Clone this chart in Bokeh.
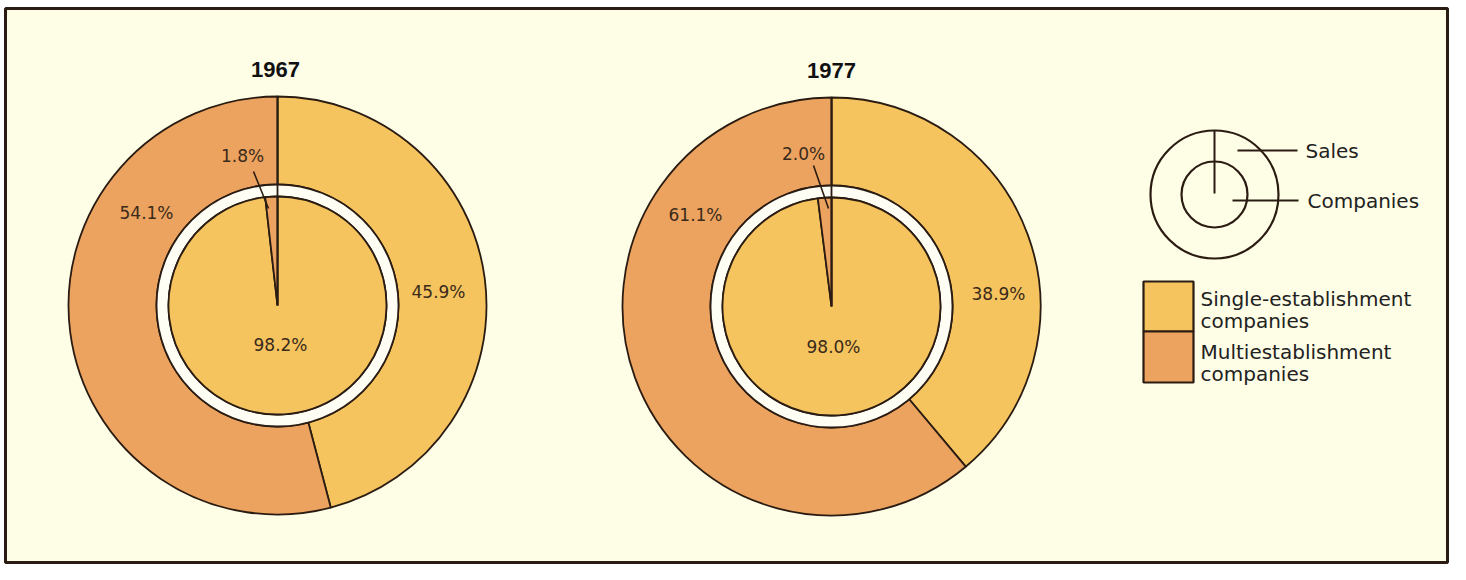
import numpy as np
from bokeh.plotting import figure
from bokeh.models import Range1d
from bokeh.embed import file_html
from bokeh.resources import INLINE
from bokeh.core.properties import value

# ---------------- data ----------------
years = ["1967", "1977"]
sales_single = [45.9, 38.9]       # % of sales, single-establishment companies
sales_multi = [54.1, 61.1]        # % of sales, multiestablishment companies
companies_single = [98.2, 98.0]   # % of companies, single-establishment
companies_multi = [1.8, 2.0]      # % of companies, multiestablishment
ring_labels = ["Sales", "Companies"]
legend_labels = ["Single-establishment\ncompanies", "Multiestablishment\ncompanies"]

# ---------------- style ----------------
YELLOW = "#F6C45E"
ORANGE = "#ECA35F"
BG = "#FEFDE6"
RING = "#FFFEF4"
INK = "#2a1c12"
FONT = value("DejaVu Sans")
TFONT = value("Liberation Sans")

W, H = 1450, 564
p = figure(width=W, height=H, x_range=Range1d(0, W), y_range=Range1d(-H, 0),
           output_backend="svg", toolbar_location=None, min_border=0,
           x_axis_type=None, y_axis_type=None)
p.grid.visible = False
p.background_fill_color = "#FFFFFF"
p.border_fill_color = "#FFFFFF"
p.outline_line_color = None

# panel frame
p.quad(left=[5], right=[1447], top=[-8], bottom=[-562], fill_color=BG,
       line_color=INK, line_width=3)

R_OUT, R_RING, R_IN = 209, 121, 109
centers = [(277, 305), (831, 306)]
# label layout (page px, text centres)
title_pos = [(275, 69), (831, 70)]
smulti_pos = [(146, 212), (695, 214)]
ssingle_pos = [(438, 291), (998, 293)]
csingle_pos = [(280, 344), (833, 346)]
cmulti_pos = [(242, 155), (803, 153)]
leaders = [((253, 171), (268, 208)), ((813, 165), (828, 208))]

TWO_PI = 2 * np.pi
a0 = np.pi / 2

for i in range(len(years)):
    cx, cy = centers[i]
    y = -cy
    a_s = a0 - TWO_PI * sales_single[i] / 100.0
    a_s2 = a_s - TWO_PI * sales_multi[i] / 100.0
    p.annular_wedge(x=cx, y=y, inner_radius=R_RING, outer_radius=R_OUT,
                    start_angle=a0, end_angle=a_s, direction="clock",
                    fill_color=YELLOW, line_color=INK, line_width=1.8)
    p.annular_wedge(x=cx, y=y, inner_radius=R_RING, outer_radius=R_OUT,
                    start_angle=a_s, end_angle=a_s2, direction="clock",
                    fill_color=ORANGE, line_color=INK, line_width=1.8)
    p.annulus(x=cx, y=y, inner_radius=R_IN, outer_radius=R_RING,
              fill_color=RING, line_color=INK, line_width=1.8)
    c_s = a0 - TWO_PI * companies_single[i] / 100.0
    c_s2 = c_s - TWO_PI * companies_multi[i] / 100.0
    p.wedge(x=cx, y=y, radius=R_IN, start_angle=a0, end_angle=c_s, direction="clock",
            fill_color=YELLOW, line_color=INK, line_width=1.8)
    p.wedge(x=cx, y=y, radius=R_IN, start_angle=c_s, end_angle=c_s2, direction="clock",
            fill_color=ORANGE, line_color=INK, line_width=1.8)
    # starting radius through the white ring
    p.segment(x0=cx, y0=y, x1=cx + R_OUT * np.cos(a0), y1=y + R_OUT * np.sin(a0),
              line_color=INK, line_width=1.8)
    # leader for small wedge
    (lx0, ly0), (lx1, ly1) = leaders[i]
    p.segment(x0=lx0, y0=-ly0, x1=lx1, y1=-ly1, line_color=INK, line_width=1.6)

    p.text(x=[title_pos[i][0]], y=[-title_pos[i][1]], text=[years[i]],
           text_font=TFONT, text_font_style="bold", text_font_size="22px",
           text_align="center", text_baseline="middle", text_color="#111111")
    labs = [f"{sales_multi[i]:.1f}%", f"{sales_single[i]:.1f}%",
            f"{companies_single[i]:.1f}%", f"{companies_multi[i]:.1f}%"]
    poss = [smulti_pos[i], ssingle_pos[i], csingle_pos[i], cmulti_pos[i]]
    p.text(x=[q[0] for q in poss], y=[-q[1] for q in poss], text=labs,
           text_font=FONT, text_font_size="17px", text_align="center",
           text_baseline="middle", text_color="#3a2a1a")

# ---------------- key ----------------
kx, ky = 1214, 194
p.circle(x=[kx, kx], y=[-ky, -ky], radius=[64, 33], fill_color=None,
         line_color=INK, line_width=2.2)
p.segment(x0=[kx, 1237, 1232], y0=[-130, -150, -200], x1=[kx, 1297, 1298],
          y1=[-193, -150, -200], line_color=INK, line_width=2)
p.text(x=[1305, 1307], y=[-150, -200], text=ring_labels, text_font=FONT,
       text_font_size="20px", text_align="left", text_baseline="middle",
       text_color="#222222")

p.quad(left=[1143, 1143], right=[1193, 1193], top=[-281, -331], bottom=[-331, -382],
       fill_color=[YELLOW, ORANGE], line_color=INK, line_width=2.2)
leg_centres = [(298, 320), (351, 373)]
lx, ly, lt = [], [], []
for lab, cs in zip(legend_labels, leg_centres):
    for line, c in zip(lab.split("\n"), cs):
        lx.append(1200)
        ly.append(-c)
        lt.append(line)
p.text(x=lx, y=ly, text=lt, text_font=FONT, text_font_size="20px",
       text_align="left", text_baseline="middle", text_color="#222222")

open("out.html", "w").write(file_html(p, INLINE))
